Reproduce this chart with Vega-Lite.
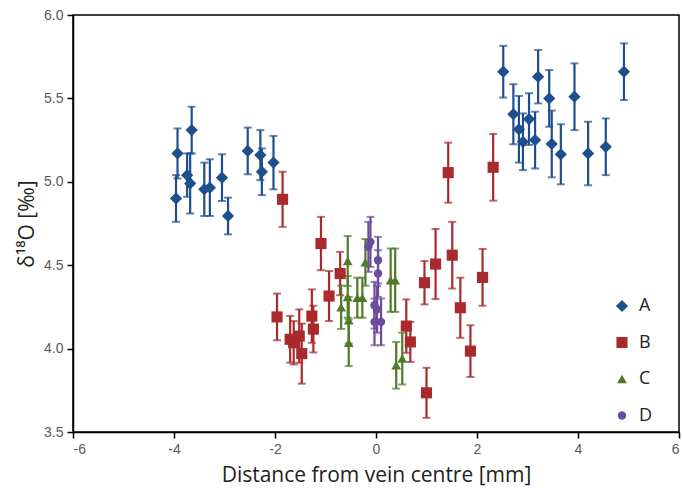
{
  "$schema": "https://vega.github.io/schema/vega-lite/v6.json",
  "width": 606,
  "height": 417,
  "autosize": {"type": "none"},
  "padding": {"left": 73, "top": 15, "right": 3, "bottom": 63},
  "background": "white",
  "config": {
    "view": {"stroke": "black", "strokeWidth": 1.5},
    "font": "Liberation Sans"
  },
  "data": {
    "values": [
      {"s": "A", "x": -3.96, "y": 4.90, "e": 0.14},
      {"s": "A", "x": -3.93, "y": 5.17, "e": 0.15},
      {"s": "A", "x": -3.74, "y": 5.04, "e": 0.13},
      {"s": "A", "x": -3.68, "y": 4.99, "e": 0.18},
      {"s": "A", "x": -3.65, "y": 5.31, "e": 0.14},
      {"s": "A", "x": -3.40, "y": 4.955, "e": 0.16},
      {"s": "A", "x": -3.29, "y": 4.965, "e": 0.17},
      {"s": "A", "x": -3.05, "y": 5.025, "e": 0.14},
      {"s": "A", "x": -2.93, "y": 4.795, "e": 0.11},
      {"s": "A", "x": -2.54, "y": 5.185, "e": 0.14},
      {"s": "A", "x": -2.29, "y": 5.16, "e": 0.15},
      {"s": "A", "x": -2.26, "y": 5.06, "e": 0.14},
      {"s": "A", "x": -2.03, "y": 5.115, "e": 0.16},
      {"s": "A", "x": 2.52, "y": 5.66, "e": 0.155},
      {"s": "A", "x": 2.72, "y": 5.405, "e": 0.18},
      {"s": "A", "x": 2.83, "y": 5.315, "e": 0.2},
      {"s": "A", "x": 2.91, "y": 5.24, "e": 0.17},
      {"s": "A", "x": 3.03, "y": 5.376, "e": 0.155},
      {"s": "A", "x": 3.15, "y": 5.25, "e": 0.17},
      {"s": "A", "x": 3.21, "y": 5.63, "e": 0.16},
      {"s": "A", "x": 3.43, "y": 5.50, "e": 0.17},
      {"s": "A", "x": 3.48, "y": 5.227, "e": 0.2},
      {"s": "A", "x": 3.66, "y": 5.165, "e": 0.18},
      {"s": "A", "x": 3.93, "y": 5.51, "e": 0.2},
      {"s": "A", "x": 4.20, "y": 5.17, "e": 0.19},
      {"s": "A", "x": 4.55, "y": 5.21, "e": 0.17},
      {"s": "A", "x": 4.91, "y": 5.66, "e": 0.17},
      {"s": "B", "x": -1.85, "y": 4.895, "e": 0.165},
      {"s": "B", "x": -1.96, "y": 4.19, "e": 0.14},
      {"s": "B", "x": -1.70, "y": 4.056, "e": 0.14},
      {"s": "B", "x": -1.63, "y": 4.035, "e": 0.13},
      {"s": "B", "x": -1.52, "y": 4.075, "e": 0.16},
      {"s": "B", "x": -1.47, "y": 3.97, "e": 0.18},
      {"s": "B", "x": -1.27, "y": 4.195, "e": 0.16},
      {"s": "B", "x": -1.24, "y": 4.117, "e": 0.14},
      {"s": "B", "x": -1.09, "y": 4.63, "e": 0.16},
      {"s": "B", "x": -0.93, "y": 4.315, "e": 0.15},
      {"s": "B", "x": -0.71, "y": 4.45, "e": 0.13},
      {"s": "B", "x": 0.60, "y": 4.135, "e": 0.16},
      {"s": "B", "x": 0.68, "y": 4.04, "e": 0.12},
      {"s": "B", "x": 1.00, "y": 3.735, "e": 0.15},
      {"s": "B", "x": 0.96, "y": 4.395, "e": 0.13},
      {"s": "B", "x": 1.18, "y": 4.507, "e": 0.21},
      {"s": "B", "x": 1.43, "y": 5.055, "e": 0.18},
      {"s": "B", "x": 1.51, "y": 4.56, "e": 0.2},
      {"s": "B", "x": 1.67, "y": 4.245, "e": 0.18},
      {"s": "B", "x": 1.87, "y": 3.985, "e": 0.155},
      {"s": "B", "x": 2.11, "y": 4.427, "e": 0.17},
      {"s": "B", "x": 2.32, "y": 5.087, "e": 0.2},
      {"s": "C", "x": -0.69, "y": 4.248, "e": 0.13},
      {"s": "C", "x": -0.56, "y": 4.525, "e": 0.15},
      {"s": "C", "x": -0.56, "y": 4.31, "e": 0.125},
      {"s": "C", "x": -0.54, "y": 4.17, "e": 0.14},
      {"s": "C", "x": -0.54, "y": 4.035, "e": 0.14},
      {"s": "C", "x": -0.37, "y": 4.305, "e": 0.12},
      {"s": "C", "x": -0.27, "y": 4.305, "e": 0.12},
      {"s": "C", "x": -0.21, "y": 4.517, "e": 0.14},
      {"s": "C", "x": 0.29, "y": 4.41, "e": 0.19},
      {"s": "C", "x": 0.38, "y": 4.41, "e": 0.19},
      {"s": "C", "x": 0.40, "y": 3.90, "e": 0.14},
      {"s": "C", "x": 0.52, "y": 3.94, "e": 0.155},
      {"s": "D", "x": -0.15, "y": 4.61, "e": 0.15},
      {"s": "D", "x": -0.11, "y": 4.64, "e": 0.15},
      {"s": "D", "x": 0.04, "y": 4.53, "e": 0.14},
      {"s": "D", "x": 0.04, "y": 4.45, "e": 0.14},
      {"s": "D", "x": -0.03, "y": 4.26, "e": 0.14},
      {"s": "D", "x": 0.02, "y": 4.235, "e": 0.14},
      {"s": "D", "x": -0.03, "y": 4.16, "e": 0.14},
      {"s": "D", "x": 0.10, "y": 4.16, "e": 0.14}
    ]
  },
  "layer": [
    {
      "mark": {"type": "errorbar", "ticks": {"size": 8, "thickness": 2}, "rule": {"strokeWidth": 2.2}},
      "encoding": {
        "x": {"field": "x", "type": "quantitative", "title": "Distance from vein centre [mm]"},
        "y": {"field": "y", "type": "quantitative", "title": "δ¹⁸O [‰]"},
        "yError": {"field": "e"},
        "color": {"field": "s", "type": "nominal", "title": null,
          "scale": {"domain": ["A", "B", "C", "D"], "range": ["#1f4e8c", "#a82a2c", "#4f7a28", "#6a4c9c"]}}
      }
    },
    {
      "mark": {"type": "point", "filled": true, "opacity": 1},
      "encoding": {
        "x": {"field": "x", "type": "quantitative",
          "scale": {"domain": [-6, 6], "nice": false},
          "axis": {"values": [-6, -4, -2, 0, 2, 4, 6], "labelExpr": "replace(datum.label, '−', '-')", "grid": false, "domainColor": "black", "domainWidth": 1.5,
            "tickColor": "black", "tickSize": 6, "tickWidth": 1.5, "labelColor": "#595959", "labelFontSize": 14,
            "labelPadding": 4, "title": "Distance from vein centre [mm]", "titleFont": "Open Sans",
            "titleFontSize": 21, "titleFontWeight": "normal", "titleColor": "#222", "titlePadding": 8}},
        "y": {"field": "y", "type": "quantitative",
          "scale": {"domain": [3.5, 6.0], "nice": false, "zero": false},
          "axis": {"values": [3.5, 4.0, 4.5, 5.0, 5.5, 6.0], "format": ".1f", "grid": false, "domainColor": "black",
            "domainWidth": 1.5, "tickColor": "black", "tickSize": 6, "tickWidth": 1.5, "labelColor": "#595959",
            "labelFontSize": 14, "labelPadding": 4, "title": "δ¹⁸O [‰]", "titleFont": "Open Sans",
            "titleFontSize": 21, "titleFontWeight": "normal", "titleColor": "#222", "titlePadding": 6}},
        "color": {"field": "s", "type": "nominal", "title": null,
          "scale": {"domain": ["A", "B", "C", "D"], "range": ["#1f4e8c", "#a82a2c", "#4f7a28", "#6a4c9c"]},
          "legend": {"orient": "none", "legendX": 540, "legendY": 282, "symbolSize": 40, "symbolOpacity": 1,
            "symbolStrokeWidth": 0, "labelFontSize": 18,
            "labelFont": "Open Sans", "labelColor": "#222", "rowPadding": 18.5, "labelOffset": 8, "padding": 0,
            "encode": {"symbols": {"update": {"opacity": {"value": 1}, "fillOpacity": {"value": 1}, "size": {"value": 45}}}}}},
        "shape": {"field": "s", "type": "nominal", "title": null,
          "scale": {"domain": ["A", "B", "C", "D"], "range": ["diamond", "square", "triangle-up", "circle"]}},
        "size": {"field": "s", "type": "nominal", "legend": null,
          "scale": {"domain": ["A", "B", "C", "D"], "range": [150, 70, 80, 100]}}
      }
    }
  ]
}
